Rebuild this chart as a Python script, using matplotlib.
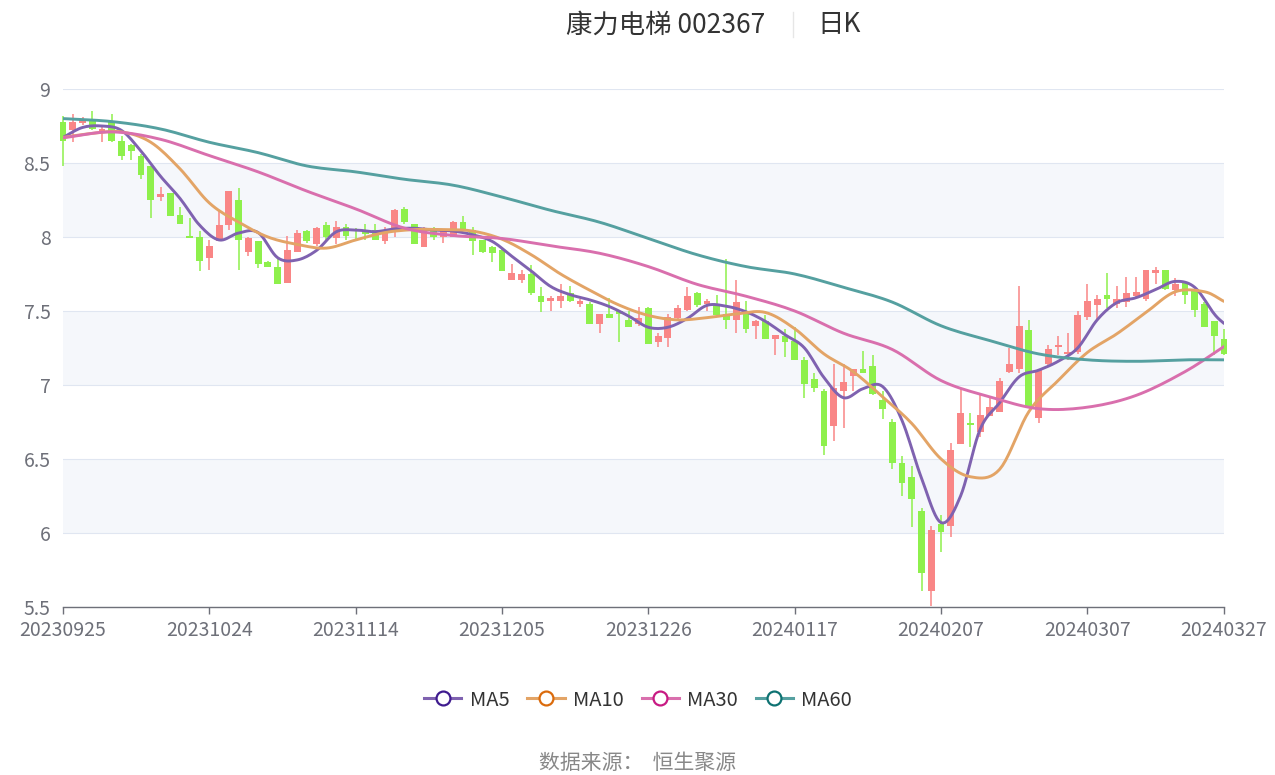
import numpy as np
import matplotlib
matplotlib.use('Agg')
import matplotlib.pyplot as plt
from matplotlib.lines import Line2D

plt.rcParams['font.family'] = ['Noto Sans CJK SC', 'DejaVu Sans']

# daily candles, 20230925 .. 20240327 (120 trading days)
opens = [8.78, 8.72, 8.77, 8.80, 8.71, 8.78, 8.65, 8.62, 8.55, 8.48,
         8.27, 8.30, 8.15, 8.01, 8.00, 7.86, 7.97, 8.08, 8.25, 7.90,
         7.97, 7.83, 7.80, 7.69, 7.90, 8.04, 7.95, 8.08, 7.99, 8.07,
         8.05, 8.05, 8.05, 7.97, 8.04, 8.19, 8.09, 7.93, 8.06, 8.00,
         8.00, 8.10, 8.05, 7.98, 7.93, 7.91, 7.71, 7.71, 7.75, 7.60,
         7.57, 7.57, 7.62, 7.55, 7.55, 7.41, 7.48, 7.50, 7.44, 7.41,
         7.52, 7.29, 7.32, 7.45, 7.51, 7.62, 7.55, 7.55, 7.48, 7.44,
         7.50, 7.40, 7.43, 7.31, 7.33, 7.30, 7.17, 7.04, 6.96, 6.72,
         6.96, 7.06, 7.11, 7.13, 6.90, 6.75, 6.47, 6.38, 6.15, 5.61,
         6.06, 6.05, 6.60, 6.74, 6.68, 6.79, 6.82, 7.09, 7.11, 7.37,
         6.78, 7.14, 7.26, 7.21, 7.22, 7.46, 7.54, 7.61, 7.55, 7.56,
         7.60, 7.58, 7.76, 7.78, 7.64, 7.69, 7.64, 7.55, 7.43, 7.31]
closes = [8.65, 8.78, 8.80, 8.73, 8.73, 8.65, 8.55, 8.58, 8.42, 8.25,
          8.29, 8.14, 8.09, 7.99, 7.84, 7.94, 8.08, 8.31, 7.98, 7.99,
          7.82, 7.80, 7.68, 7.91, 8.03, 7.97, 8.06, 8.00, 8.07, 8.01,
          8.04, 8.02, 7.98, 8.04, 8.18, 8.10, 7.95, 8.06, 8.00, 8.04,
          8.10, 8.05, 7.97, 7.90, 7.89, 7.77, 7.76, 7.75, 7.62, 7.56,
          7.59, 7.60, 7.57, 7.57, 7.41, 7.48, 7.45, 7.48, 7.39, 7.45,
          7.28, 7.33, 7.46, 7.52, 7.60, 7.54, 7.57, 7.47, 7.44, 7.56,
          7.38, 7.43, 7.31, 7.34, 7.29, 7.17, 7.01, 6.98, 6.59, 6.98,
          7.02, 7.11, 7.08, 6.94, 6.84, 6.47, 6.34, 6.23, 5.73, 6.02,
          6.01, 6.56, 6.81, 6.73, 6.80, 6.85, 7.03, 7.14, 7.40, 6.86,
          7.10, 7.24, 7.27, 7.22, 7.47, 7.57, 7.58, 7.58, 7.58, 7.62,
          7.63, 7.78, 7.78, 7.65, 7.68, 7.61, 7.51, 7.39, 7.33, 7.21]
highs = [8.82, 8.83, 8.81, 8.85, 8.75, 8.83, 8.68, 8.63, 8.56, 8.48,
         8.34, 8.30, 8.20, 8.13, 8.04, 7.98, 8.18, 8.31, 8.33, 8.00,
         7.97, 7.84, 7.86, 8.01, 8.05, 8.05, 8.07, 8.10, 8.11, 8.09,
         8.06, 8.09, 8.09, 8.07, 8.19, 8.20, 8.09, 8.07, 8.07, 8.05,
         8.11, 8.14, 8.07, 7.98, 7.94, 7.92, 7.82, 7.78, 7.81, 7.66,
         7.60, 7.68, 7.67, 7.58, 7.56, 7.48, 7.59, 7.51, 7.50, 7.53,
         7.53, 7.35, 7.48, 7.54, 7.66, 7.63, 7.58, 7.61, 7.85, 7.71,
         7.57, 7.44, 7.47, 7.34, 7.38, 7.39, 7.19, 7.08, 6.97, 7.14,
         7.14, 7.11, 7.23, 7.20, 6.96, 6.77, 6.52, 6.45, 6.17, 6.05,
         6.12, 6.61, 6.98, 6.81, 6.94, 6.92, 7.05, 7.25, 7.67, 7.44,
         7.11, 7.27, 7.33, 7.35, 7.50, 7.68, 7.61, 7.76, 7.67, 7.73,
         7.73, 7.78, 7.80, 7.78, 7.72, 7.69, 7.64, 7.56, 7.43, 7.38]
lows = [8.48, 8.64, 8.76, 8.72, 8.64, 8.64, 8.52, 8.52, 8.39, 8.13,
        8.24, 8.14, 8.09, 7.99, 7.77, 7.78, 7.97, 8.05, 7.78, 7.87,
        7.79, 7.80, 7.68, 7.69, 7.90, 7.96, 7.94, 7.98, 7.95, 7.98,
        7.98, 7.98, 7.98, 7.95, 8.00, 8.09, 7.95, 7.93, 7.98, 7.96,
        8.00, 8.04, 7.88, 7.89, 7.83, 7.77, 7.71, 7.69, 7.61, 7.49,
        7.50, 7.52, 7.56, 7.53, 7.41, 7.35, 7.45, 7.29, 7.39, 7.40,
        7.28, 7.26, 7.26, 7.44, 7.50, 7.53, 7.50, 7.47, 7.38, 7.35,
        7.35, 7.31, 7.31, 7.20, 7.19, 7.17, 6.91, 6.95, 6.53, 6.62,
        6.71, 6.96, 7.08, 6.93, 6.77, 6.43, 6.25, 6.04, 5.61, 5.51,
        5.87, 5.97, 6.60, 6.58, 6.65, 6.79, 6.82, 7.08, 7.08, 6.85,
        6.74, 7.13, 7.20, 7.17, 7.21, 7.44, 7.43, 7.52, 7.52, 7.53,
        7.59, 7.57, 7.68, 7.64, 7.60, 7.55, 7.46, 7.39, 7.20, 7.20]

# moving averages
ma5_idx = list(range(0, 119, 2)) + [119]
ma5 = [8.673, 8.74, 8.75, 8.72, 8.58, 8.41, 8.26, 8.08, 7.98, 8.027,
       8.03, 7.86, 7.845, 7.91, 8.035, 8.047, 8.036, 8.055, 8.059, 8.047,
       8.04, 8.015, 7.97, 7.87, 7.77, 7.665, 7.61, 7.575, 7.53, 7.465,
       7.39, 7.39, 7.45, 7.538, 7.532, 7.495, 7.43, 7.34, 7.25, 7.05,
       6.914, 6.975, 6.99, 6.76, 6.37, 6.07, 6.25, 6.70, 6.88, 7.055,
       7.10, 7.16, 7.25, 7.44, 7.556, 7.59, 7.645, 7.70, 7.66, 7.48,
       7.416]
ma10_idx = list(range(0, 118, 3)) + [119]
ma10 = [8.673, 8.70, 8.71, 8.64, 8.46, 8.23, 8.10, 8.00, 7.95, 7.925,
        7.98, 8.03, 8.05, 8.05, 8.04, 7.985, 7.88, 7.75, 7.64, 7.54,
        7.47, 7.44, 7.455, 7.48, 7.49, 7.38, 7.21, 7.09, 6.92, 6.74,
        6.50, 6.38, 6.43, 6.82, 7.03, 7.22, 7.345, 7.49, 7.63, 7.63,
        7.565]
ma_long_idx = list(range(0, 116, 5)) + [119]
ma30 = [8.67, 8.71, 8.66, 8.55, 8.44, 8.31, 8.19, 8.06, 8.01, 7.99,
        7.94, 7.89, 7.80, 7.68, 7.60, 7.50, 7.35, 7.24, 7.03, 6.92,
        6.84, 6.85, 6.93, 7.09, 7.26]
ma60 = [8.80, 8.78, 8.73, 8.64, 8.57, 8.48, 8.44, 8.39, 8.35, 8.27,
        8.18, 8.10, 7.99, 7.88, 7.80, 7.75, 7.66, 7.56, 7.40, 7.30,
        7.21, 7.17, 7.16, 7.17, 7.17]

tick_idx = [0, 15, 30, 45, 60, 75, 90, 105, 119]
tick_labels = ['20230925', '20231024', '20231114', '20231205', '20231226',
               '20240117', '20240207', '20240307', '20240327']
y_ticks = [5.5, 6, 6.5, 7, 7.5, 8, 8.5, 9]
y_labels = ['5.5', '6', '6.5', '7', '7.5', '8', '8.5', '9']


def smooth(xs, ys, n=10):
    # catmull-rom curve through the read points, like echarts smooth lines
    xs = np.asarray(xs, float)
    ys = np.asarray(ys, float)
    px = np.concatenate([[2 * xs[0] - xs[1]], xs, [2 * xs[-1] - xs[-2]]])
    py = np.concatenate([[2 * ys[0] - ys[1]], ys, [2 * ys[-1] - ys[-2]]])
    t = np.linspace(0, 1, n, endpoint=False)[:, None]
    outx, outy = [], []
    for k in range(len(xs) - 1):
        for p, out in ((px, outx), (py, outy)):
            p0, p1, p2, p3 = p[k:k + 4]
            v = 0.5 * (2 * p1 + (-p0 + p2) * t + (2 * p0 - 5 * p1 + 4 * p2 - p3) * t ** 2
                       + (-p0 + 3 * p1 - 3 * p2 + p3) * t ** 3)
            out.extend(v.ravel())
    outx.append(xs[-1])
    outy.append(ys[-1])
    return outx, outy


fig = plt.figure(figsize=(12.75, 7.75), dpi=100)
ax = fig.add_axes([63 / 1275, 1 - 607 / 775, (1224 - 63) / 1275, (607 - 89) / 775])

# alternating bands
for lo in [6, 7, 8]:
    ax.axhspan(lo, lo + 0.5, color='#f5f7fb', zorder=0, lw=0)
for yv in y_ticks:
    ax.axhline(yv, color='#e0e6f1', lw=0.8, zorder=1)

up_col = '#f98686'
down_col = '#8ef04c'
x = np.arange(len(opens))
o = np.array(opens)
c = np.array(closes)
cols = [up_col if cc >= oo else down_col for oo, cc in zip(o, c)]
ax.vlines(x, lows, highs, colors=cols, lw=1.1, zorder=2, clip_on=False)
ax.bar(x, np.maximum(np.abs(c - o), 0.006), bottom=np.minimum(o, c), width=0.7,
       color=cols, zorder=2, clip_on=False, lw=0)

ma_specs = [('MA5', ma5_idx, ma5, '#7f62b0', '#3f1b8f'),
            ('MA10', ma10_idx, ma10, '#e3a466', '#db6b0c'),
            ('MA30', ma_long_idx, ma30, '#d96fad', '#c81a83'),
            ('MA60', ma_long_idx, ma60, '#55a0a0', '#0e7272')]
handles = []
for name, idx, vals, lc, ec in ma_specs:
    sx, sy = smooth(idx, vals)
    ax.plot(sx, sy, color=lc, lw=2.1, zorder=3, solid_capstyle='round')
    handles.append(Line2D([0], [0], color=lc, lw=2.2, marker='o', markersize=10,
                          markerfacecolor='white', markeredgecolor=ec,
                          markeredgewidth=1.6, label=name))

ax.set_xlim(0, len(opens) - 1)
ax.set_ylim(5.5, 9)
ax.set_yticks(y_ticks)
ax.set_yticklabels(y_labels)
ax.set_xticks(tick_idx)
ax.set_xticklabels(tick_labels)
for s in ['top', 'right', 'left']:
    ax.spines[s].set_visible(False)
ax.spines['bottom'].set_color('#6e7079')
ax.spines['bottom'].set_linewidth(1)
ax.spines['bottom'].set_zorder(4)
ax.tick_params(axis='y', length=0, pad=9, labelsize=14, labelcolor='#6e7079')
ax.tick_params(axis='x', length=5, width=1, color='#6e7079', pad=4,
               labelsize=14, labelcolor='#6e7079')

fig.text(666 / 1275, 1 - 25 / 775, '康力电梯 002367', ha='center', va='center',
         fontsize=19, color='#333333')
fig.text(839 / 1275, 1 - 25 / 775, '日K', ha='center', va='center',
         fontsize=19, color='#333333')
fig.add_artist(Line2D([793 / 1275] * 2, [1 - 12 / 775, 1 - 37 / 775],
                      transform=fig.transFigure, color='#e6e6e6', lw=1))

fig.legend(handles=handles, loc='center', bbox_to_anchor=(638 / 1275, 1 - 700 / 775),
           ncol=4, frameon=False, fontsize=14.5, handlelength=1.85, handletextpad=0.4,
           columnspacing=0.9, labelcolor='#333333')
fig.text(638 / 1275, 1 - 763 / 775, '数据来源：  恒生聚源', ha='center', va='center',
         fontsize=15, color='#888888')

fig.savefig('out.png', dpi=100)
